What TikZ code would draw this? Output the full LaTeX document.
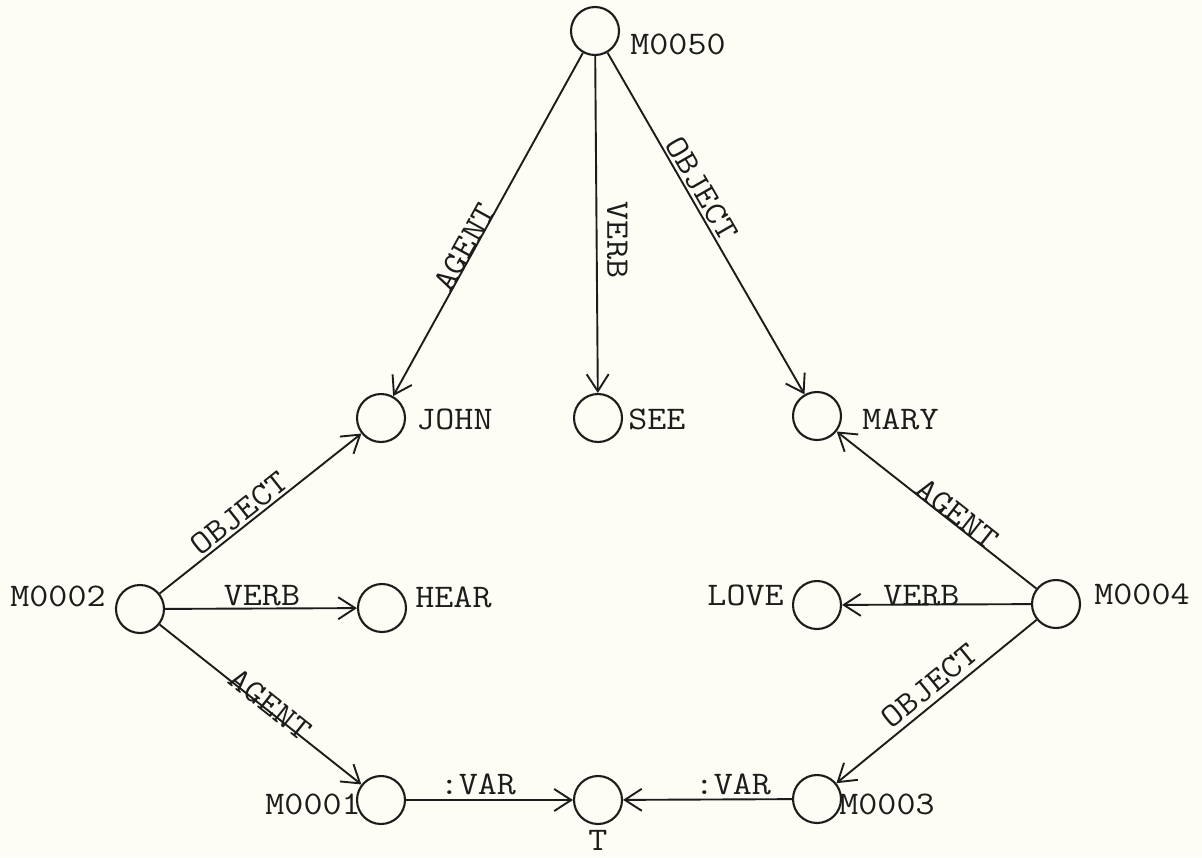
\documentclass[tikz,border=0pt]{standalone}
\usepackage{fontspec}
\setmonofont{Latin Modern Mono}[FakeStretch=1.12]
\usetikzlibrary{arrows.meta}
\definecolor{paper}{RGB}{253,253,245}
\definecolor{ink}{RGB}{28,28,28}
\begin{document}
\begin{tikzpicture}[x=0.5pt,y=-0.5pt,
  font=\fontsize{16.5}{19}\selectfont\ttfamily,
  every node/.style={text=ink},
  net/.style={circle,draw=ink,line width=1.05pt,minimum size=24pt,inner sep=0pt},
  arc/.style={draw=ink,line width=0.95pt,-{Straight Barb[length=8.5pt,width=11pt,line width=0.95pt]}},
  lbl/.style={inner sep=0pt}]
  \fill[paper] (0,0) rectangle (1202,857);
  \useasboundingbox (0,0) rectangle (1202,857);

  % nodes
  \node[net] (m50) at (595,31) {};
  \node[net] (john) at (381,418) {};
  \node[net] (see) at (598,418) {};
  \node[net] (mary) at (817,416) {};
  \node[net] (m2) at (140,609) {};
  \node[net] (hear) at (382,608) {};
  \node[net] (love) at (817,605) {};
  \node[net] (m4) at (1056,604) {};
  \node[net] (m1) at (381,800) {};
  \node[net] (t) at (598,800) {};
  \node[net] (m3) at (817,799) {};

  % node names
  \node[lbl,anchor=west] (nm50) at (630,44) {M0050};
  \node[lbl,anchor=west] (njohn) at (416,419) {JOHN};
  \node[lbl,anchor=west] (nsee) at (628,419) {SEE};
  \node[lbl,anchor=west] (nmary) at (862,419) {MARY};
  \node[lbl,anchor=east] (nm2) at (106,596) {M0002};
  \node[lbl,anchor=west] (nhear) at (415,597) {HEAR};
  \node[lbl,anchor=east] (nlove) at (784,595) {LOVE};
  \node[lbl,anchor=west] (nm4) at (1094,594) {M0004};
  \node[lbl,anchor=east] (nm1) at (361,804) {M0001};
  \node[lbl,anchor=west] (nm3) at (839,804) {M0003};
  \node[lbl,anchor=north] (nt) at (598,830) {T};

  % case frames
  \draw[arc] (m50) -- node[lbl,pos=0.58,sloped,above=-1pt] {AGENT} (john);
  \draw[arc] (m50) -- node[lbl,pos=0.546,anchor=south,rotate=-90,yshift=4.75pt] {VERB} (see);
  \draw[arc] (m50) -- node[lbl,pos=0.418,sloped,above=1.2pt] {OBJECT} (mary);

  \draw[arc] (m2) -- node[lbl,pos=0.435,sloped,above=1pt] {OBJECT} (john);
  \draw[arc] (m2) -- node[lbl,pos=0.505,above=0.75pt] {VERB} (hear);
  \draw[arc] (m2) -- node[lbl,pos=0.529,sloped,above=-2.7pt] {AGENT} (m1);

  \draw[arc] (m4) -- node[lbl,pos=0.427,sloped,above=-0.85pt] {AGENT} (mary);
  \draw[arc] (m4) -- node[lbl,pos=0.58,above=-1.25pt] {VERB} (love);
  \draw[arc] (m4) -- node[lbl,pos=0.481,sloped,above=2.6pt] {OBJECT} (m3);

  \draw[arc] (m1) -- node[lbl,pos=0.43,above=2.25pt] {:VAR} (t);
  \draw[arc] (m3) -- node[lbl,pos=0.35,above=2pt] {:VAR} (t);
\end{tikzpicture}
\end{document}
